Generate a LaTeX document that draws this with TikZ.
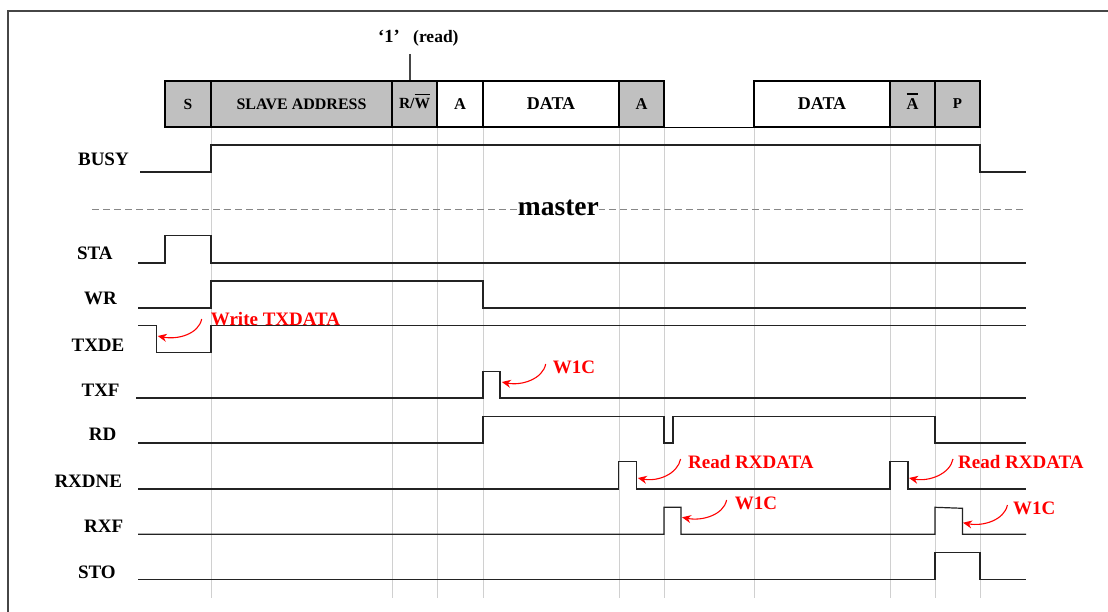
\documentclass[tikz,border=0pt]{standalone}
\usepackage{fontspec}
\setmainfont{Liberation Serif}
\usetikzlibrary{arrows.meta}
\definecolor{boxgray}{RGB}{192,192,192}
\definecolor{gridgray}{RGB}{208,208,208}
\definecolor{sigcol}{RGB}{35,35,35}
\definecolor{framecol}{RGB}{70,70,70}
\definecolor{dashcol}{RGB}{135,135,135}
\newcommand{\fsz}[1]{\fontsize{#1}{#1}\selectfont\bfseries}
\newcommand{\ovbar}[1]{\leavevmode\setbox0\hbox{#1}\rlap{\smash{\raisebox{\dimexpr\ht0+4pt\relax}{\rule{\wd0}{1.1pt}}}}\box0}
\begin{document}
\begin{tikzpicture}[x=1pt,y=-1pt,
  sig/.style={draw=sigcol,line width=1.2pt,line join=miter},
  gridline/.style={draw=gridgray,line width=1pt},
  hbox/.style={draw=black,line width=1.2pt,inner sep=0pt,minimum height=46pt},
  lbl/.style={anchor=base west,inner sep=0pt,font=\fsz{19}},
  note/.style={anchor=base west,inner sep=0pt,text=red,font=\fsz{19}},
  notearrow/.style={draw=red,line width=1.1pt,-{Stealth[length=9pt,width=8pt]}},
  dashline/.style={draw=dashcol,line width=1pt,dash pattern=on 7pt off 4pt}]
\useasboundingbox (0,0) rectangle (1108,612);
\fill[white] (0,0) rectangle (1108,612);
% frame
\draw[draw=framecol,line width=1.2pt] (8,612) -- (8,11) -- (1108,11);
% grid lines
\foreach \gx in {211,392,437,483,619,664,754,890,935,980}
  \draw[gridline] (\gx,127) -- (\gx,598);
% header boxes
\node[hbox,fill=boxgray,minimum width=46pt,font=\fsz{15.5}] (bS) at (188,104) {S};
\node[hbox,fill=boxgray,minimum width=181pt,font=\fsz{16}] (bAddr) at (301.5,104) {SLAVE ADDRESS};
\node[hbox,fill=boxgray,minimum width=45pt,font=\fsz{15.5}] (bRW) at (414.5,104) {R/\ovbar{W}};
\node[hbox,fill=white,minimum width=46pt,font=\fsz{16.5}] (bA1) at (460,104) {A};
\node[hbox,fill=white,minimum width=136pt,font=\fsz{18}] (bD1) at (551,104) {DATA};
\node[hbox,fill=boxgray,minimum width=45pt,font=\fsz{16.5}] (bA2) at (641.5,104) {A};
\node[hbox,fill=white,minimum width=136pt,font=\fsz{18}] (bD2) at (822,104) {DATA};
\node[hbox,fill=boxgray,minimum width=45pt,font=\fsz{16.5}] (bNA) at (912.5,104) {\ovbar{A}};
\node[hbox,fill=boxgray,minimum width=45pt,font=\fsz{15}] (bP) at (957.5,104) {P};
\draw[draw=black,line width=1.2pt] (bA2.south east) -- (bD2.south west);
% read marker
\node[anchor=base west,inner sep=0pt,font=\fsz{18.5}] (q1) at (378,42.7) {‘1’};
\node[anchor=base west,inner sep=0pt,font=\fsz{17.5}] (qread) at (413,42.7) {(read)};
\coordinate (tickTop) at (410,54);
\draw[draw=framecol,line width=1.1pt] (tickTop) -- (tickTop |- bRW.north);
% labels
\node[lbl] (lBUSY) at (77.9,165.7) {BUSY};
\node[lbl] (lSTA) at (76.8,260) {STA};
\node[lbl] (lWR) at (84,305) {WR};
\node[lbl] (lTXDE) at (71.4,351.7) {TXDE};
\node[lbl] (lTXF) at (81.4,396) {TXF};
\node[lbl] (lRD) at (88.6,440) {RD};
\node[lbl] (lRXDNE) at (54.3,487.3) {RXDNE};
\node[lbl] (lRXF) at (84,532.7) {RXF};
\node[lbl] (lSTO) at (77.9,578.3) {STO};
% master separator
\draw[dashline] (92,209.3) -- (1026,209.3);
\node[anchor=base,fill=white,inner xsep=0pt,inner ysep=1pt,font=\fsz{27.5}] (master) at (558.4,216) {master};
% waveforms
\draw[sig] (140,172) -- (211,172) -- (211,145) -- (980,145) -- (980,172) -- (1026,172);
\draw[sig] (138,263) -- (165,263) -- (165,235.3) -- (211,235.3) -- (211,263) -- (1026,263);
\draw[sig] (138,308) -- (211,308) -- (211,281) -- (483,281) -- (483,308) -- (1026,308);
\draw[sig] (138,325.7) -- (156.7,325.7) -- (156.7,352.7) -- (211,352.7) -- (211,325.7) -- (1026,325.7);
\draw[sig] (136,398) -- (483,398) -- (483,371.7) -- (500,371.7) -- (500,398) -- (1026,398);
\draw[sig] (138,443) -- (483,443) -- (483,416.7) -- (664,416.7) -- (664,443) -- (673,443) -- (673,416.7) -- (935,416.7) -- (935,443) -- (1026,443);
\draw[sig] (138,489) -- (618.5,489) -- (618.5,461.7) -- (636.5,461.7) -- (636.5,489) -- (890,489) -- (890,461.7) -- (908,461.7) -- (908,489) -- (1026,489);
\draw[sig] (138,534.3) -- (664,534.3) -- (664,507.3) -- (681,507.3) -- (681,534.3) -- (935,534.3) -- (935,507.3) -- (962.5,508.3) -- (962.5,534.3) -- (1026,534.3);
\draw[sig] (138,579.3) -- (935,579.3) -- (935,552.3) -- (980,552.3) -- (980,579.3) -- (1026,579.3);
% annotations
\node[note] (nWrite) at (210.7,325.7) {Write TXDATA};
\node[note] (nW1) at (552.7,373.3) {W1C};
\node[note] (nRead1) at (688,468) {Read RXDATA};
\node[note] (nRead2) at (958,468) {Read RXDATA};
\node[note] (nW2) at (734.6,509) {W1C};
\node[note] (nW3) at (1013,514) {W1C};
\coordinate (sWrite) at (201.7,319);   \coordinate (tWrite) at (157.7,336);
\coordinate (sW1) at (545.7,364);      \coordinate (tW1) at (501.8,382);
\coordinate (sRead1) at (680.6,459);   \coordinate (tRead1) at (637.8,478);
\coordinate (sRead2) at (953,459);     \coordinate (tRead2) at (909,478);
\coordinate (sW2) at (726.6,500);      \coordinate (tW2) at (682,517.3);
\coordinate (sW3) at (1007.4,505);     \coordinate (tW3) at (963,522.7);
\foreach \nm in {Write,W1,Read1,Read2,W2,W3}
  \draw[notearrow] (s\nm) .. controls +(-3,15) and +(20,4) .. (t\nm);
\end{tikzpicture}
\end{document}
